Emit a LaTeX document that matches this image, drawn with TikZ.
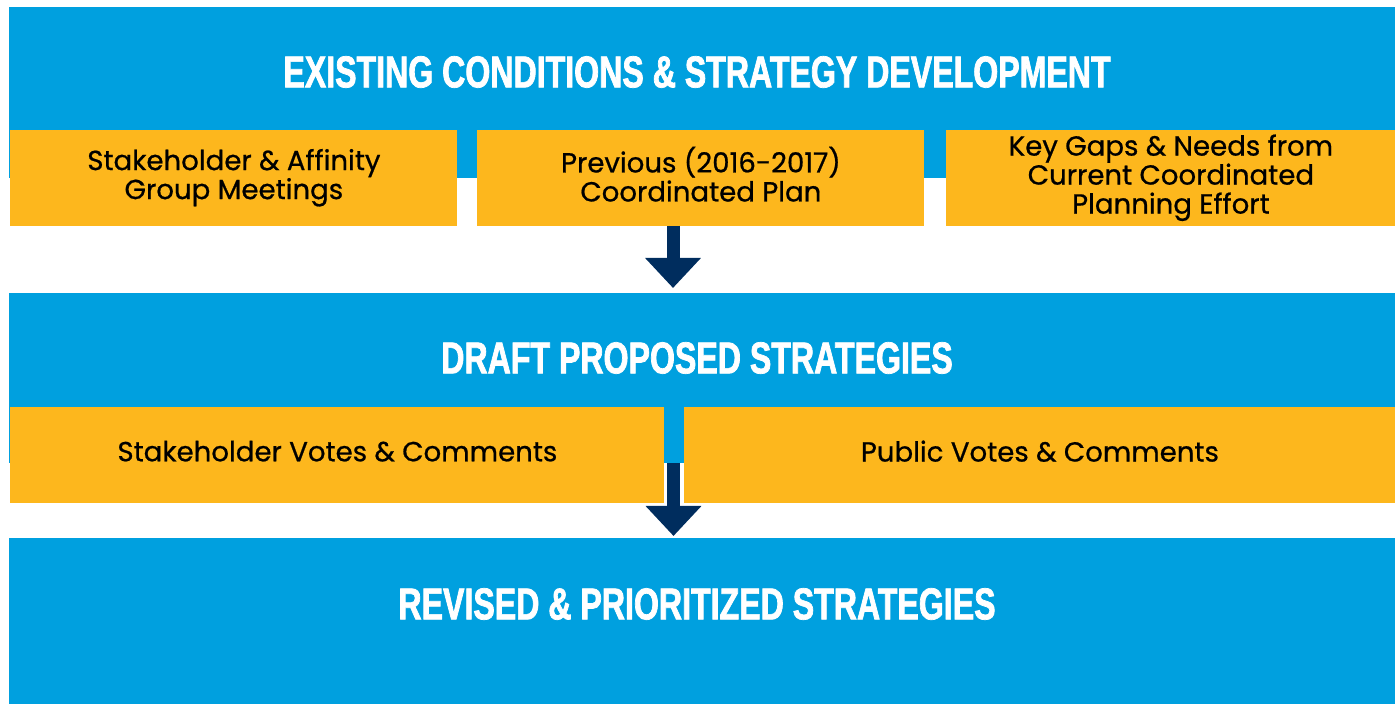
\documentclass[tikz,border=0pt]{standalone}
\usepackage{fontspec}
\setmainfont{Poppins}
\newfontfamily\boxfont[FakeBold=0.7]{Poppins}
\newfontfamily\headfont[FakeStretch=0.72,FakeBold=1.6]{Liberation Sans}
\usepackage{tikz}
\usetikzlibrary{arrows.meta,positioning}
\definecolor{bandblue}{HTML}{00A0DF}
\definecolor{boxgold}{HTML}{FDB71D}
\definecolor{arrownavy}{HTML}{002D5E}
\tikzset{
	band/.style={fill=bandblue,inner sep=0pt,anchor=north west,minimum width=693pt},
	goldbox/.style={fill=boxgold,inner sep=0pt,anchor=north west,minimum height=48pt,align=center,
		font=\boxfont\fontsize{13.8}{14.5}\selectfont,execute at begin node=\strut,execute at end node=\strut},
	bandtitle/.style={text=white,inner sep=0pt,font=\headfont\bfseries\fontsize{22.3}{24}\selectfont},
	flowarrow/.style={draw=arrownavy,line width=6.5pt,-{Triangle[length=15pt,width=27pt]}}
}

\begin{document}
\begin{tikzpicture}[x=0.5pt,y=-0.5pt]
		\useasboundingbox (0,0) rectangle (1395,704);
		% bands
		\node[band,minimum height=85.5pt] (exist) at (9,7) {};
		\node[band,minimum height=85pt] (draft) at (9,293) {};
		\node[band,minimum height=83pt] (revised) at (9,538) {};
		% first row
		\node[goldbox,minimum width=223.5pt] (meet) at (10,130) {Stakeholder \& Affinity\\Group Meetings};
		\node[goldbox,minimum width=223.5pt] (prev) at (477,130) {Previous (2016-2017)\\Coordinated Plan};
		\node[goldbox,minimum width=224.5pt] (gaps) at (946,130) {Key Gaps \& Needs from\\Current Coordinated\\Planning Effort};
		% second row
		\node[goldbox,minimum width=327pt] (stvotes) at (10,407) {Stakeholder Votes \& Comments};
		\node[goldbox,minimum width=355.5pt] (pubvotes) at (684,407) {Public Votes \& Comments};
		% titles
		\node[bandtitle] (existtitle) at (697,72) {EXISTING CONDITIONS \& STRATEGY DEVELOPMENT};
		\node[bandtitle] (drafttitle) at (697,358) {DRAFT PROPOSED STRATEGIES};
		\node[bandtitle] (revisedtitle) at (697,604) {REVISED \& PRIORITIZED STRATEGIES};
		% arrows
		\coordinate (arrowa) at (673,226);
		\coordinate (arrowb) at (673,288);
		\coordinate (arrowc) at (673.5,463);
		\coordinate (arrowd) at (673.5,536);
		\draw[flowarrow] (arrowa) -- (arrowb);
		\draw[flowarrow] (arrowc) -- (arrowd);
	\end{tikzpicture}
\end{document}
